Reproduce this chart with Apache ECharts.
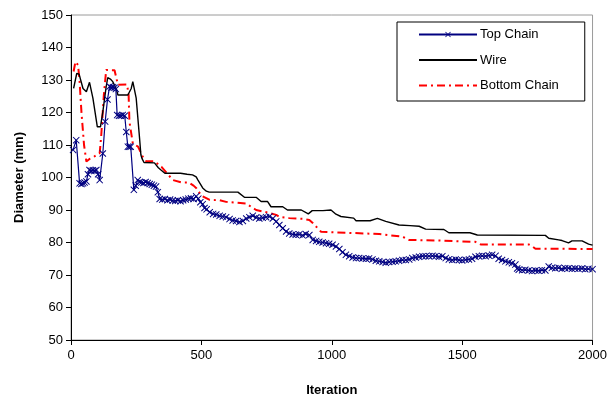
<!DOCTYPE html>
<html>
<head>
<meta charset="utf-8">
<script src="https://cdn.jsdelivr.net/npm/echarts@6/dist/echarts.min.js"></script>
<style>
  html, body { margin: 0; padding: 0; background: #fff; }
  #chart { width: 610px; height: 402px; }
</style>
</head>
<body>
<div id="chart"></div>
<script>
// Diameter vs iteration for the three mooring segments: [iteration, diameter mm]
const topChain = [
  [8,108.5],[20,111.5],[33,98.2],[40,98],[46,98.2],[52,98.5],[59,98.8],[65,101],[71,102.3],[78,102],
  [84,102.2],[90,102],[97,102.3],[104,101],[110,99.2],[122,107.4],[131,117.2],[140,124],[148,128],[155,127.6],
  [161,127.8],[167,127.6],[172,127.2],[177,119.2],[184,119],[191,119],[198,119.2],[206,119],[212,114],[218,109.5],
  [224,109.5],[229,109.5],[241,96.2],[248,97.5],[256,99.2],[263,98.6],[270,98.5],[278,98.3],[286,98.6],[294,98.3],
  [302,98],[310,97.8],[318,97.5],[326,97.2],[333,95.5],[340,93.4],[350,93.2],[360,93.4],[370,93],[380,93.2],
  [390,92.9],[400,92.8],[410,93],[420,92.7],[430,93],[440,93.2],[450,93.5],[460,93.6],[470,93.4],[480,94.2],
  [488,93.5],[496,92.4],[505,91.8],[512,90.6],[520,90.2],[532,89.3],[545,88.8],[557,88.6],[570,88.2],[582,88],
  [595,87.8],[608,87.2],[620,86.8],[633,86.6],[646,86.3],[659,86.6],[672,87.4],[684,87.8],[697,88.2],[710,87.7],
  [722,87.4],[735,87.6],[748,87.8],[761,88],[774,87.4],[787,86.5],[799,85.4],[812,84.4],[825,83.4],[837,82.8],
  [850,82.5],[862,82.4],[875,82.5],[888,82.2],[900,82.6],[914,82.3],[927,80.8],[940,80.5],[952,80.2],[965,80],
  [978,79.8],[990,79.6],[1003,79.3],[1016,78.8],[1029,78],[1041,77],[1054,76.2],[1067,75.8],[1080,75.4],[1093,75.2],
  [1105,75.2],[1118,75.1],[1131,75],[1143,75.1],[1156,74.8],[1169,74.4],[1182,74.2],[1195,74],[1207,73.8],[1220,74],
  [1233,74.1],[1245,74.2],[1258,74.4],[1271,74.6],[1284,74.6],[1297,74.8],[1309,75.2],[1322,75.4],[1335,75.6],[1348,75.8],
  [1360,75.8],[1373,75.8],[1386,75.9],[1398,75.8],[1411,75.6],[1424,75.8],[1437,75.2],[1449,74.8],[1462,74.6],[1475,74.8],
  [1488,74.6],[1500,74.5],[1513,74.7],[1526,74.8],[1538,75],[1551,75.6],[1564,75.8],[1577,75.9],[1590,75.8],[1602,76],
  [1615,76.2],[1628,75.9],[1640,75],[1653,74.6],[1666,74.2],[1679,73.9],[1691,73.6],[1704,73.2],[1711,72],[1717,71.6],
  [1730,71.5],[1742,71.6],[1755,71.4],[1768,71.2],[1781,71.4],[1793,71.3],[1806,71.5],[1819,71.4],[1832,72.6],[1844,72.2],
  [1857,72.1],[1870,72.2],[1882,71.9],[1895,72.1],[1908,72.1],[1921,71.9],[1933,72],[1946,71.9],[1959,72],[1972,71.8],
  [1984,71.9],[2000,71.8]
];

const wire = [
  [10,127.4],[22,132],[31,131.8],[46,127.4],[59,126.4],[71,129.3],[84,124.4],[101,115.6],[113,115.6],[122,120.2],
  [135,128],[141,130.7],[151,130.3],[160,129.5],[173,127.4],[180,125.4],[218,125.4],[231,127.4],[237,129.5],[250,124.4],
  [263,112],[268,107],[272,105.9],[280,104.6],[320,104.5],[335,103],[345,102.3],[360,101.3],[420,101.3],[445,101],
  [466,100.8],[480,100.2],[487,99.2],[505,96.8],[519,95.8],[530,95.5],[640,95.5],[646,95.2],[665,93.9],[710,93.9],
  [729,92.6],[754,92.6],[767,91],[812,91],[830,90],[883,90],[910,88.8],[925,89.8],[966,89.8],[997,90],
  [1003,89.8],[1016,88.7],[1035,88],[1084,87.5],[1093,86.7],[1147,86.7],[1175,87.4],[1207,86.5],[1258,85.4],[1300,85.2],
  [1335,85],[1360,84.1],[1430,84],[1449,83],[1530,83],[1558,82.3],[1819,82.2],[1832,81.3],[1870,80.8],[1883,80.6],
  [1908,79.9],[1921,80.5],[1960,80.5],[1985,79.5],[2000,79.2]
];

const bottomChain = [
  [10,132.6],[17,135.6],[27,134.6],[33,129.5],[40,120.2],[50,110],[59,104.9],[71,105.7],[90,106.5],[110,107.5],
  [116,113],[126,125.4],[135,133.1],[167,133],[180,128.5],[215,128.6],[221,125.4],[224,117.2],[237,110.5],[257,109.5],
  [275,106.4],[288,105],[320,105],[347,103.3],[366,101.5],[391,99.2],[422,98.5],[451,98.5],[470,97.5],[481,96.7],
  [500,94.4],[532,93.1],[570,93],[595,92.5],[672,92],[690,91],[710,90],[754,89.2],[787,88.5],[799,87.9],
  [837,87.5],[888,87.3],[914,86.9],[927,86],[959,83.3],[991,83.2],[1182,82.6],[1271,81.8],[1296,80.8],[1411,80.6],
  [1551,80.2],[1571,79.4],[1755,79.4],[1768,78.9],[1781,78.1],[2000,78]
];

const xTicks = { min: 0, max: 2000, interval: 500 };
const yTicks = { min: 50, max: 150, interval: 10 };

const FONT = '"Liberation Sans", Arial, sans-serif';
const CROSS = 'path://M0,1L1,0L5,4L9,0L10,1L6,5L10,9L9,10L5,6L1,10L0,9L4,5Z';

const chart = echarts.init(document.getElementById('chart'), null, { renderer: 'canvas' });
chart.setOption({
  animation: false,
  backgroundColor: '#ffffff',
  textStyle: { fontFamily: FONT },
  grid: {
    left: 71, right: 16, top: 15, bottom: 62,
    show: true, borderColor: '#9a9a9a', borderWidth: 1, backgroundColor: '#ffffff'
  },
  legend: {
    orient: 'vertical',
    left: 397, top: 22,
    padding: [5, 26, 8, 21],
    itemGap: 10.5,
    itemWidth: 58, itemHeight: 7,
    backgroundColor: '#ffffff',
    borderColor: '#000000', borderWidth: 1, borderRadius: 0,
    textStyle: { fontFamily: FONT, fontSize: 13, color: '#000000', padding: [0, 0, 0, -2], lineHeight: 15 },
    data: [
      { name: 'Top Chain' },
      { name: 'Wire', itemStyle: { opacity: 0 } },
      { name: 'Bottom Chain', itemStyle: { opacity: 0 } }
    ]
  },
  xAxis: {
    type: 'value',
    min: xTicks.min, max: xTicks.max, interval: xTicks.interval,
    name: 'Iteration', nameLocation: 'middle', nameGap: 44,
    nameTextStyle: { fontFamily: FONT, fontSize: 13, fontWeight: 'bold', color: '#000' },
    axisLine: { show: true, onZero: false, lineStyle: { color: '#000', width: 1 } },
    axisTick: { show: true, length: 5, lineStyle: { color: '#000' } },
    axisLabel: { fontFamily: FONT, fontSize: 13, color: '#000', margin: 9, formatter: v => String(v) },
    splitLine: { show: false }
  },
  yAxis: {
    type: 'value',
    min: yTicks.min, max: yTicks.max, interval: yTicks.interval,
    name: 'Diameter (mm)', nameLocation: 'middle', nameGap: 45, nameRotate: 90,
    nameTextStyle: { fontFamily: FONT, fontSize: 13, fontWeight: 'bold', color: '#000' },
    axisLine: { show: true, onZero: false, lineStyle: { color: '#000', width: 1 } },
    axisTick: { show: true, length: 5, lineStyle: { color: '#000' } },
    axisLabel: { fontFamily: FONT, fontSize: 13, color: '#000', margin: 8 },
    splitLine: { show: false }
  },
  series: [
    {
      name: 'Top Chain', type: 'line', data: topChain,
      color: '#000080',
      lineStyle: { color: '#000080', width: 1.2 },
      symbol: CROSS, symbolSize: 7, showAllSymbol: true,
      itemStyle: { color: '#000080' },
      z: 4
    },
    {
      name: 'Wire', type: 'line', data: wire,
      color: '#000000',
      lineStyle: { color: '#000000', width: 1.4 },
      symbol: 'none',
      z: 3
    },
    {
      name: 'Bottom Chain', type: 'line', data: bottomChain,
      color: '#ff0000',
      lineStyle: { color: '#ff0000', width: 2, type: [8, 4, 2, 4] },
      symbol: 'none',
      z: 2
    }
  ]
});
</script>
</body>
</html>
